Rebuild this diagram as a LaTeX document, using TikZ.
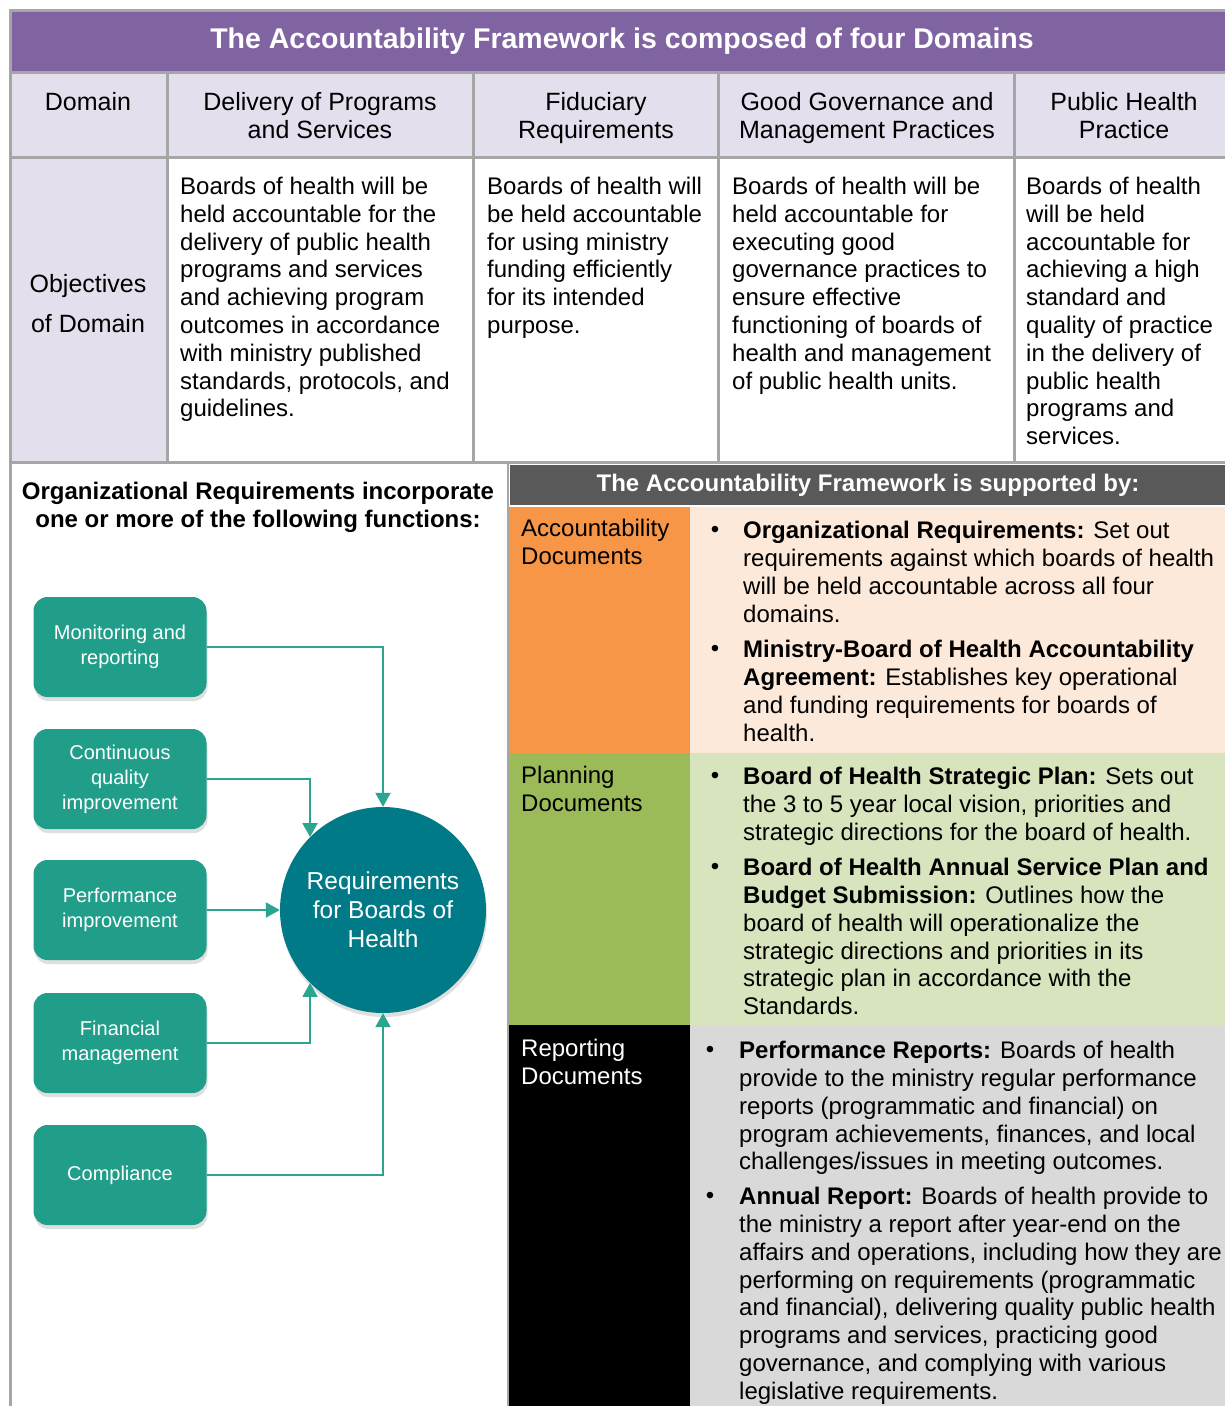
\documentclass[tikz,border=0pt]{standalone}
\usepackage{fontspec}
\setmainfont{Liberation Sans}
\usetikzlibrary{arrows.meta,shadows}

\definecolor{gridgray}{HTML}{A6A6A6}
\definecolor{titlepurple}{HTML}{8064A2}
\definecolor{headlav}{HTML}{E4DFEC}
\definecolor{bandgray}{HTML}{595959}
\definecolor{accorange}{HTML}{F79646}
\definecolor{accpeach}{HTML}{FDE9D9}
\definecolor{plangreen}{HTML}{9BBB59}
\definecolor{planlight}{HTML}{D7E4BD}
\definecolor{replight}{HTML}{D9D9D9}
\definecolor{fnteal}{HTML}{209E89}
\definecolor{hubteal}{HTML}{007A87}
\definecolor{linkteal}{HTML}{2BA58E}

\tikzset{
  gridline/.style={draw=gridgray,line width=3pt},
  txt/.style={anchor=north west,inner sep=0pt,align=left,font=\fontsize{24}{27.8}\selectfont},
  headtxt/.style={anchor=north,inner sep=0pt,align=center,font=\fontsize{25}{28}\selectfont},
  dot/.style={inner sep=0pt,font=\fontsize{24}{27.8}\selectfont},
  fnbox/.style={rounded corners=14pt,fill=fnteal,minimum width=173,minimum height=100,
    text=white,align=center,inner sep=2pt,font=\fontsize{20}{25}\selectfont,
    drop shadow={opacity=.25,shadow xshift=1pt,shadow yshift=-4pt}},
  hub/.style={circle,fill=hubteal,minimum size=206,text=white,align=center,inner sep=0pt,
    font=\fontsize{24.5}{29}\selectfont,
    drop shadow={opacity=.25,shadow xshift=1pt,shadow yshift=-4pt}},
  link/.style={draw=linkteal,line width=2pt,-{Triangle[width=15pt,length=14pt]}}
}

\begin{document}
\begin{tikzpicture}[x=1pt,y=-1pt]
\useasboundingbox (0,0) rectangle (1225,1406);
\fill[white] (0,0) rectangle (1225,1406);

% domains table
\fill[titlepurple] (10,10) rectangle (1225,72);
\fill[headlav] (10,72) rectangle (1225,157);
\fill[headlav] (10,157) rectangle (167,462);
\draw[gridline] (10,1406) -- (10,10) -- (1225,10);
\foreach \y in {72,157,462} \draw[gridline] (10,\y) -- (1225,\y);
\foreach \x in {167,473,718,1014} \draw[gridline] (\x,72) -- (\x,462);

\node[inner sep=0pt,text=white,font=\fontsize{28.5}{31}\bfseries] (title) at (622,41)
  {The Accountability Framework is composed of four Domains};

\node[headtxt] (hdom) at (88,92) {Domain};
\node[headtxt] (hdel) at (320,92) {Delivery of Programs\\and Services};
\node[headtxt] (hfid) at (596,92) {Fiduciary\\Requirements};
\node[headtxt] (hgov) at (867,92) {Good Governance and\\Management Practices};
\node[headtxt] (hpub) at (1124,92) {Public Health\\Practice};
\node[headtxt,font=\fontsize{25}{40}\selectfont] (hobj) at (88,274) {Objectives\\of Domain};

\node[txt] (odel) at (180,177) {Boards of health will be\\held accountable for the\\delivery of public health\\programs and services\\and achieving program\\outcomes in accordance\\with ministry published\\standards, protocols, and\\guidelines.};
\node[txt] (ofid) at (487,177) {Boards of health will\\be held accountable\\for using ministry\\funding efficiently\\for its intended\\purpose.};
\node[txt] (ogov) at (732,177) {Boards of health will be\\held accountable for\\executing good\\governance practices to\\ensure effective\\functioning of boards of\\health and management\\of public health units.};
\node[txt] (opub) at (1026,177) {Boards of health\\will be held\\accountable for\\achieving a high\\standard and\\quality of practice\\in the delivery of\\public health\\programs and\\services.};

% functions
\draw[gridline,line width=2pt] (508,462) -- (508,1406);
\node[headtxt,font=\fontsize{24}{28}\bfseries] (orgreq) at (258,482)
  {Organizational Requirements incorporate\\one or more of the following functions:};

\node[fnbox] (mon) at (120,647) {Monitoring and\\reporting};
\node[fnbox] (cqi) at (120,779) {Continuous\\quality\\improvement};
\node[fnbox] (perf) at (120,910) {Performance\\improvement};
\node[fnbox] (fin) at (120,1043) {Financial\\management};
\node[fnbox] (comp) at (120,1175) {Compliance};
\node[hub] (req) at (383,910) {Requirements\\for Boards of\\Health};

\draw[link] (mon.east) -| (req.north);
\draw[link] (cqi.east) -| (req.north west);
\draw[link] (perf.east) -- (req.west);
\draw[link] (fin.east) -| (req.south west);
\draw[link] (comp.east) -| (req.south);

% supporting documents
\fill[bandgray] (510,465) rectangle (1225,505);
\fill[accorange] (509,507) rectangle (690,753);
\fill[accpeach] (690,507) rectangle (1225,753);
\fill[plangreen] (509,753) rectangle (690,1025);
\fill[planlight] (690,753) rectangle (1225,1025);
\fill[black] (509,1025) rectangle (690,1406);
\fill[replight] (690,1025) rectangle (1225,1406);

\node[inner sep=0pt,text=white,font=\fontsize{24}{28}\bfseries] (supp) at (868,485)
  {The Accountability Framework is supported by:};

\node[txt] (acc) at (521,519) {Accountability\\Documents};
\node[txt] (plan) at (521,766) {Planning\\Documents};
\node[txt,text=white] (rep) at (521,1039) {Reporting\\Documents};

\node[dot] (a1dot) at (715,532) {\textbullet};
\node[txt] (a1) at (743,521) {\textbf{Organizational Requirements:} Set out\\requirements against which boards of health\\will be held accountable across all four\\domains.};
\node[dot] (a2dot) at (715,651) {\textbullet};
\node[txt] (a2) at (743,640) {\textbf{Ministry-Board of Health Accountability}\\\textbf{Agreement:} Establishes key operational\\and funding requirements for boards of\\health.};
\node[dot] (p1dot) at (715,778) {\textbullet};
\node[txt] (p1) at (743,767) {\textbf{Board of Health Strategic Plan:} Sets out\\the 3 to 5 year local vision, priorities and\\strategic directions for the board of health.};
\node[dot] (p2dot) at (715,869) {\textbullet};
\node[txt] (p2) at (743,858) {\textbf{Board of Health Annual Service Plan and}\\\textbf{Budget Submission:} Outlines how the\\board of health will operationalize the\\strategic directions and priorities in its\\strategic plan in accordance with the\\Standards.};
\node[dot] (r1dot) at (710,1052) {\textbullet};
\node[txt] (r1) at (739,1041) {\textbf{Performance Reports:} Boards of health\\provide to the ministry regular performance\\reports (programmatic and financial) on\\program achievements, finances, and local\\challenges/issues in meeting outcomes.};
\node[dot] (r2dot) at (710,1198) {\textbullet};
\node[txt] (r2) at (739,1187) {\textbf{Annual Report:} Boards of health provide to\\the ministry a report after year-end on the\\affairs and operations, including how they are\\performing on requirements (programmatic\\and financial), delivering quality public health\\programs and services, practicing good\\governance, and complying with various\\legislative requirements.};
\end{tikzpicture}
\end{document}
